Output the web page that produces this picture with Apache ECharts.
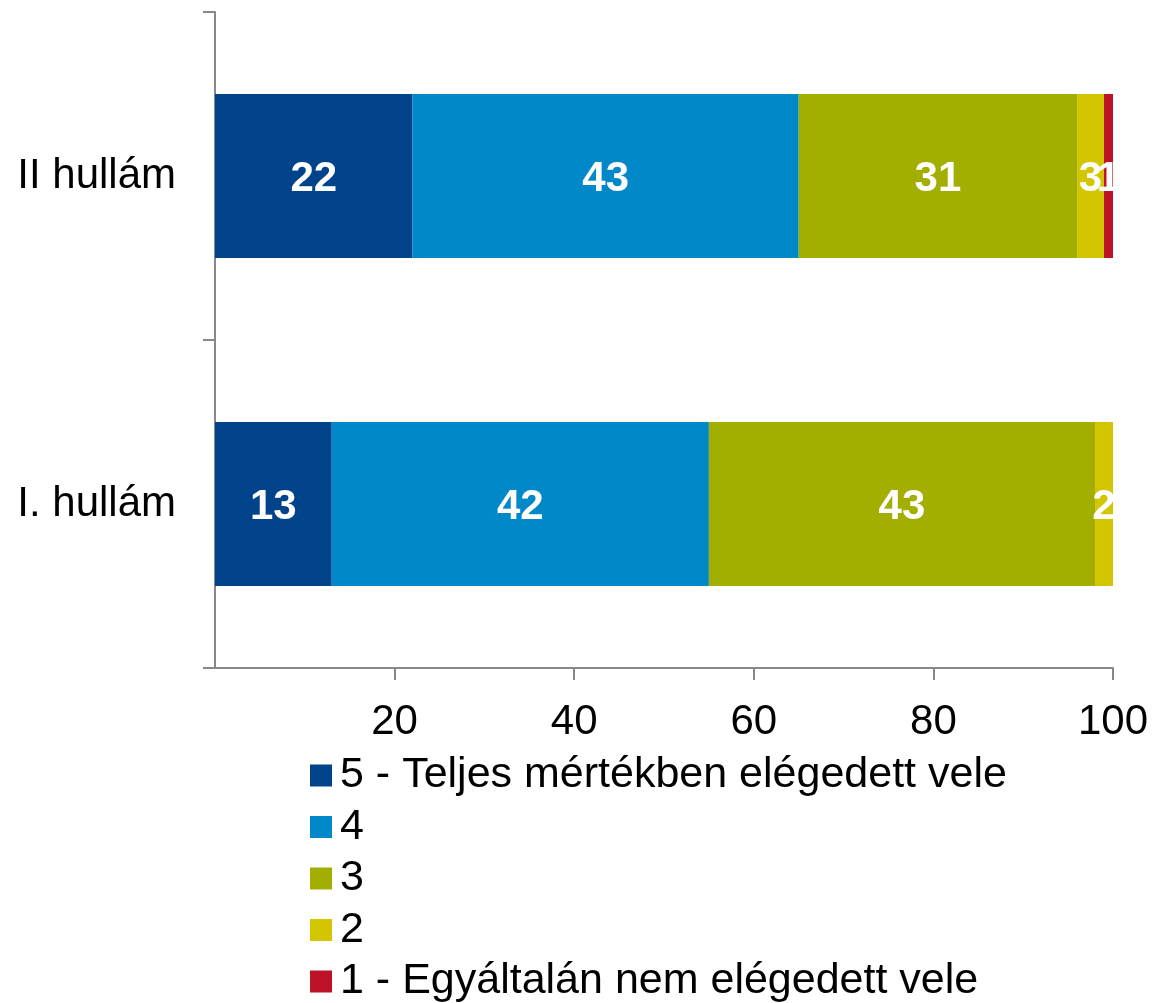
<!DOCTYPE html>
<html>
<head>
<meta charset="utf-8">
<script src="https://cdn.jsdelivr.net/npm/echarts@6/dist/echarts.min.js"></script>
<style>
	html, body { margin: 0; padding: 0; background: #fff; }
	#chart { width: 1153px; height: 1003px; }
</style>
</head>
<body>
<div id="chart"></div>
<script>
// kategóriák (alulról felfelé)
const categories = ['I. hullám', 'II hullám']
const seriesNames = [
	'5 - Teljes mértékben elégedett vele',
	'4',
	'3',
	'2',
	'1 - Egyáltalán nem elégedett vele'
]
const colors = ['#00438a', '#0088c9', '#a2ae00', '#d3c500', '#bd1228']
const values5 = [13, 22]
const values4 = [42, 43]
const values3 = [43, 31]
const values2 = [2, 3]
const values1 = [0, 1]
const xTicks = [0, 20, 40, 60, 80, 100]

const allValues = [values5, values4, values3, values2, values1]
const axisColor = '#888'
const font = 'Arial, "Liberation Sans", sans-serif'

const chart = echarts.init(document.getElementById('chart'))

const series = seriesNames.map((name, i) => ({
	name,
	type: 'bar',
	stack: 'total',
	barWidth: '50%',
	itemStyle: { color: colors[i] },
	label: {
		show: true,
		position: 'inside',
		offset: [0, 3],
		color: '#fff',
		fontWeight: 'bold',
		fontSize: 42,
		fontFamily: font,
		formatter: p => (p.value ? p.value : '')
	},
	data: allValues[i]
}))

chart.setOption({
	animation: false,
	textStyle: { fontFamily: font },
	grid: { left: 215, right: 40, top: 12, bottom: 335, containLabel: false },
	legend: {
		orient: 'vertical',
		left: 310,
		top: 754,
		height: 260,
		padding: 0,
		itemWidth: 22,
		itemHeight: 22,
		itemGap: 8.5,
		icon: 'rect',
		textStyle: { fontSize: 43, color: '#000', fontFamily: font, padding: [0, 0, 0, 3] },
		data: seriesNames
	},
	xAxis: {
		type: 'value',
		min: xTicks[0],
		max: xTicks[xTicks.length - 1],
		interval: 20,
		axisLine: { show: true, lineStyle: { color: axisColor, width: 2 } },
		axisTick: { show: true, length: 12, lineStyle: { color: axisColor, width: 2 } },
		splitLine: { show: false },
		axisLabel: {
			showMinLabel: false,
			margin: 33,
			fontSize: 42,
			color: '#000',
			fontFamily: font
		}
	},
	yAxis: {
		type: 'category',
		data: categories,
		axisLine: { show: true, lineStyle: { color: axisColor, width: 2 } },
		axisTick: { show: true, length: 12, lineStyle: { color: axisColor, width: 2 } },
		axisLabel: {
			margin: 39,
			fontSize: 42,
			color: '#000',
			fontFamily: font
		}
	},
	series
})
</script>
</body>
</html>
